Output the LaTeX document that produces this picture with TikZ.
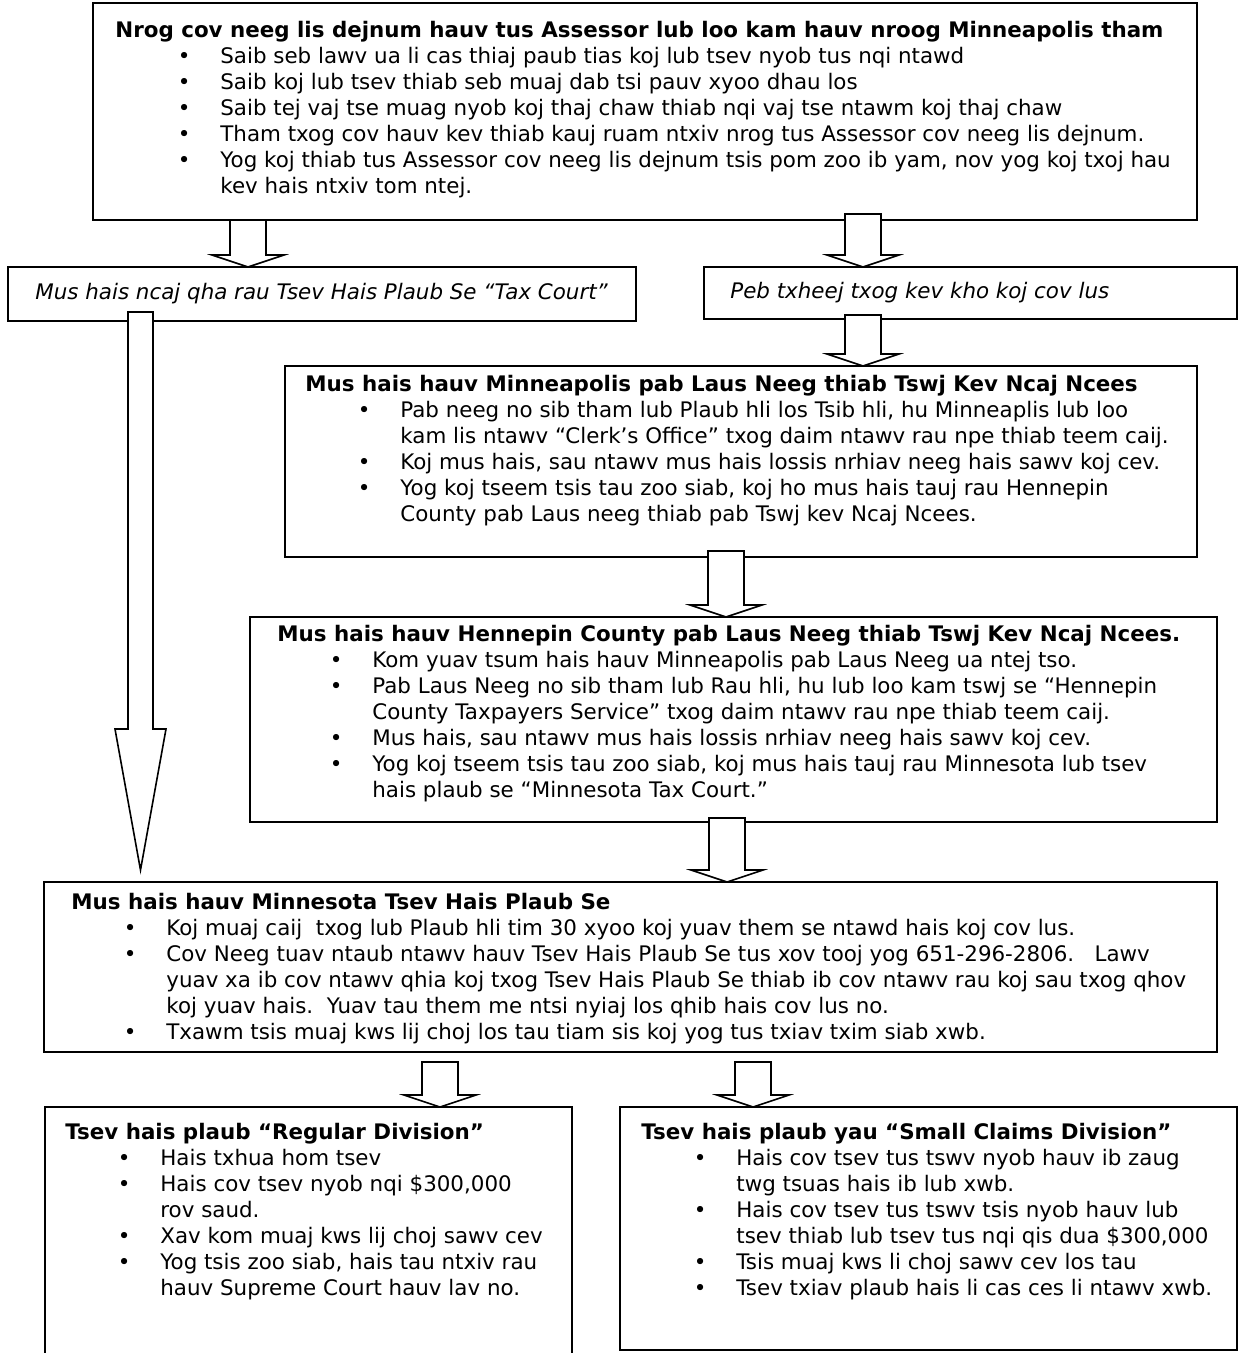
\documentclass[tikz,border=0pt]{standalone}
\usepackage{fontspec}
\setmainfont{DejaVu Sans}
\usetikzlibrary{positioning,calc}

\newlength\itmskip \setlength\itmskip{47.5pt}
\newcommand\itm{\par\leftskip=\itmskip\noindent\llap{\textbullet\hspace{15pt}}}
\newcommand\hd[1]{\textbf{#1}}
\newcommand\shaftw{9pt}
\newcommand\headw{18pt}
\newcommand\headl{6pt}
% hollow block arrow from one box down to another
\newcommand\blockarr[5]{%
  \path[arrowdecorate] let \p1=($(#1.south)+(0,#4)$), \p2=($(#2.north)+(0,#5)$), \p3=(#3,0) in
    (\x3-\shaftw,\y1) -- (\x3-\shaftw,\y2+\headl) -- (\x3-\headw,\y2+\headl) -- (\x3,\y2)
    -- (\x3+\headw,\y2+\headl) -- (\x3+\shaftw,\y2+\headl) -- (\x3+\shaftw,\y1) -- cycle;}

\begin{document}
\begin{tikzpicture}
[x=0.5pt, y=-0.5pt,
  boxdecorate/.style={draw, line width=1pt, inner sep=0pt, outer sep=0pt, anchor=north west},%
  textdecorate/.style={inner sep=0pt, anchor=north west, font=\fontsize{10.7pt}{13pt}\selectfont},%
  arrowdecorate/.style={draw, fill=white, line width=0.8pt}]
\useasboundingbox (0,0) rectangle (1238,1353);
%% boxes
\foreach \nodename/\cx/\cy/\w/\h in {assessor/93/3/1104/217, taxcourt/8/267/628/54,
  resolve/704/267/533/52, city/285/366/912/191, county/250/617/967/205,
  state/44/882/1173/170, regular/45/1107/527/270, small/620/1107/617/243} {
  \node[boxdecorate, minimum width=\w*0.5pt, minimum height=\h*0.5pt] (\nodename) at (\cx,\cy) {};
}
\draw[line width=1.4pt] (assessor.north west) rectangle (assessor.south east);
%% texts
\node[textdecorate, below right=9pt and 11pt of assessor.north west] (assessor-txt)
  {\parbox[t]{580pt}{\raggedright\setlength\itmskip{52.5pt}%
  \hd{Nrog cov neeg lis dejnum hauv tus Assessor lub loo kam hauv nroog Minneapolis tham}
  \itm Saib seb lawv ua li cas thiaj paub tias koj lub tsev nyob tus nqi ntawd
  \itm Saib koj lub tsev thiab seb muaj dab tsi pauv xyoo dhau los
  \itm Saib tej vaj tse muag nyob koj thaj chaw thiab nqi vaj tse ntawm koj thaj chaw
  \itm Tham txog cov hauv kev thiab kauj ruam ntxiv nrog tus Assessor cov neeg lis dejnum.
  \itm Yog koj thiab tus Assessor cov neeg lis dejnum tsis pom zoo ib yam, nov yog koj txoj hau\\
  kev hais ntxiv tom ntej.}};
\node[textdecorate, right=13.5pt of taxcourt.west] (taxcourt-txt)
  {\textit{Mus hais ncaj qha rau Tsev Hais Plaub Se “Tax Court”}};
\node[textdecorate, right=13pt of resolve.west] (resolve-txt)
  {\textit{Peb txheej txog kev kho koj cov lus}};
\node[textdecorate, below right=4.5pt and 10pt of city.north west] (city-txt)
  {\parbox[t]{480pt}{\raggedright
  \hd{Mus hais hauv Minneapolis pab Laus Neeg thiab Tswj Kev Ncaj Ncees}
  \itm Pab neeg no sib tham lub Plaub hli los Tsib hli, hu Minneaplis lub loo\\
  kam lis ntawv “Clerk’s Office” txog daim ntawv rau npe thiab teem caij.
  \itm Koj mus hais, sau ntawv mus hais lossis nrhiav neeg hais sawv koj cev.
  \itm Yog koj tseem tsis tau zoo siab, koj ho mus hais tauj rau Hennepin\\
  County pab Laus neeg thiab pab Tswj kev Ncaj Ncees.}};
\node[textdecorate, below right=4pt and 13.5pt of county.north west] (county-txt)
  {\parbox[t]{500pt}{\raggedright
  \hd{Mus hais hauv Hennepin County pab Laus Neeg thiab Tswj Kev Ncaj Ncees.}
  \itm Kom yuav tsum hais hauv Minneapolis pab Laus Neeg ua ntej tso.
  \itm Pab Laus Neeg no sib tham lub Rau hli, hu lub loo kam tswj se “Hennepin\\
  County Taxpayers Service” txog daim ntawv rau npe thiab teem caij.
  \itm Mus hais, sau ntawv mus hais lossis nrhiav neeg hais sawv koj cev.
  \itm Yog koj tseem tsis tau zoo siab, koj mus hais tauj rau Minnesota lub tsev\\
  hais plaub se “Minnesota Tax Court.”}};
\node[textdecorate, below right=5.5pt and 13.5pt of state.north west] (state-txt)
  {\parbox[t]{600pt}{\raggedright
  \hd{Mus hais hauv Minnesota Tsev Hais Plaub Se}
  \itm Koj muaj caij\ \ txog lub Plaub hli tim 30 xyoo koj yuav them se ntawd hais koj cov lus.
  \itm Cov Neeg tuav ntaub ntawv hauv Tsev Hais Plaub Se tus xov tooj yog 651-296-2806.\ \ \ Lawv\\
  yuav xa ib cov ntawv qhia koj txog Tsev Hais Plaub Se thiab ib cov ntawv rau koj sau txog qhov\\
  koj yuav hais.\ \ Yuav tau them me ntsi nyiaj los qhib hais cov lus no.
  \itm Txawm tsis muaj kws lij choj los tau tiam sis koj yog tus txiav txim siab xwb.}};
\node[textdecorate, below right=8pt and 10pt of regular.north west] (regular-txt)
  {\parbox[t]{280pt}{\raggedright
  \hd{Tsev hais plaub “Regular Division”}
  \itm Hais txhua hom tsev
  \itm Hais cov tsev nyob nqi \$300,000\\
  rov saud.
  \itm Xav kom muaj kws lij choj sawv cev
  \itm Yog tsis zoo siab, hais tau ntxiv rau\\
  hauv Supreme Court hauv lav no.}};
\node[textdecorate, below right=8pt and 10.5pt of small.north west] (small-txt)
  {\parbox[t]{320pt}{\raggedright
  \hd{Tsev hais plaub yau “Small Claims Division”}
  \itm Hais cov tsev tus tswv nyob hauv ib zaug\\
  twg tsuas hais ib lub xwb.
  \itm Hais cov tsev tus tswv tsis nyob hauv lub\\
  tsev thiab lub tsev tus nqi qis dua \$300,000
  \itm Tsis muaj kws li choj sawv cev los tau
  \itm Tsev txiav plaub hais li cas ces li ntawv xwb.}};
%% arrows
\foreach \startnode/\endnode/\cx/\dya/\dyb in {assessor/taxcourt/248/0/0,
  assessor/resolve/863/-6/0, resolve/city/863/-4/0, city/county/726/-6/0,
  county/state/727/-4/0, state/regular/440/10/0, state/small/753/10/0} {
  \blockarr{\startnode}{\endnode}{\cx}{\dya}{\dyb}
}
\renewcommand\shaftw{6.25pt}\renewcommand\headw{12.75pt}\renewcommand\headl{70.5pt}
\blockarr{taxcourt}{state}{140.5}{-9}{-12}
\end{tikzpicture}
\end{document}
